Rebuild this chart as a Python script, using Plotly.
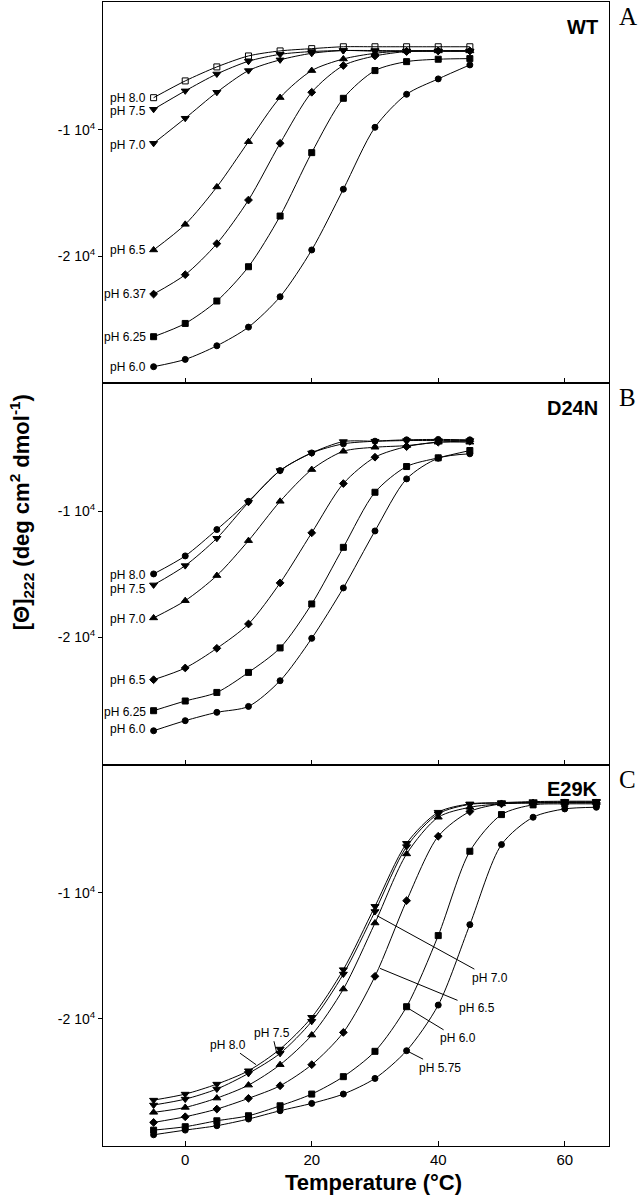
import plotly.graph_objects as go
from plotly.subplots import make_subplots

# ---------------- data ----------------
T_AB = [-5, 0, 5, 10, 15, 20, 25, 30, 35, 40, 45]
T_C = [-5, 0, 5, 10, 15, 20, 25, 30, 35, 40, 45, 50, 55, 60, 65]

# Panel A : WT
WT_pH = ["pH 8.0", "pH 7.5", "pH 7.0", "pH 6.5", "pH 6.37", "pH 6.25", "pH 6.0"]
WT_80 = [-7440, -6110, -5000, -4130, -3730, -3550, -3400, -3400, -3400, -3400, -3400]
WT_75 = [-8360, -6900, -5560, -4550, -4000, -3780, -3700, -3700, -3730, -3730, -3730]
WT_70 = [-11060, -9070, -7010, -5290, -4440, -3920, -3700, -3750, -3750, -3750, -3750]
WT_65 = [-19520, -17490, -14520, -10930, -7430, -5290, -4370, -3920, -3730, -3730, -3730]
WT_637 = [-23020, -21480, -19020, -15560, -11060, -7010, -4890, -4130, -3780, -3730, -3730]
WT_625 = [-26400, -25350, -23570, -20850, -16830, -11800, -7490, -5290, -4580, -4390, -4340]
WT_60 = [-28780, -28200, -27120, -25640, -23230, -19520, -14700, -9790, -7170, -5950, -4840]

# Panel B : D24N
D24N_pH = ["pH 8.0", "pH 7.5", "pH 7.0", "pH 6.5", "pH 6.25", "pH 6.0"]
D24N_80 = [-14970, -13540, -11450, -9210, -6770, -5370, -4650, -4440, -4330, -4300, -4330]
D24N_75 = [-15840, -14310, -12140, -9290, -6770, -5370, -4470, -4440, -4390, -4390, -4390]
D24N_70 = [-18460, -17090, -15100, -12330, -9210, -6690, -5240, -4920, -4790, -4520, -4520]
D24N_65 = [-23360, -22430, -20870, -18940, -15680, -11710, -7800, -5710, -4870, -4520, -4440]
D24N_625 = [-25820, -25050, -24370, -22780, -20840, -17350, -12860, -8490, -6450, -5760, -5180]
D24N_60 = [-27410, -26610, -25950, -25480, -23440, -20080, -16080, -11560, -7430, -5790, -5440]

# Panel C : E29K
E29K_pH = ["pH 8.0", "pH 7.5", "pH 7.0", "pH 6.5", "pH 6.0", "pH 5.75"]
E29K_80 = [-26460, -25980, -25190, -24130, -22410, -19890, -16110, -11090, -6090, -3620, -2960, -2860, -2780, -2750, -2750]
E29K_75 = [-26850, -26380, -25580, -24340, -22750, -20210, -16460, -11500, -6350, -3750, -3000, -2900, -2830, -2800, -2800]
E29K_70 = [-27430, -27040, -26300, -25270, -23650, -21300, -17650, -12410, -6930, -4020, -3230, -2960, -2870, -2850, -2850]
E29K_65 = [-28230, -27780, -27170, -26320, -25320, -23650, -21090, -16640, -10640, -5530, -3570, -2960, -2900, -2880, -2880]
E29K_60 = [-28840, -28570, -28100, -27700, -26910, -25980, -24600, -22590, -19050, -13410, -6720, -3810, -3040, -2960, -2960]
E29K_575 = [-29210, -28840, -28490, -27960, -27300, -26720, -25980, -24740, -22540, -18920, -12540, -6190, -4020, -3360, -3230]

# ---------------- figure ----------------
FONT = "Liberation Sans, Arial, Helvetica, sans-serif"
fig = make_subplots(rows=3, cols=1, shared_xaxes=True, vertical_spacing=0)

def add(row, xs, ys, symbol, size=6):
    fig.add_trace(go.Scatter(
        x=xs, y=ys, mode="lines+markers",
        line=dict(color="black", width=1, shape="spline", smoothing=0.8),
        marker=dict(symbol=symbol, size=size, color="black",
                    line=dict(color="black", width=1)),
        showlegend=False, hoverinfo="skip"), row=row, col=1)

# Panel A
wt_series = [WT_80, WT_75, WT_70, WT_65, WT_637, WT_625, WT_60]
wt_sym = ["square-open", "triangle-down", "triangle-down", "triangle-up", "diamond", "square", "circle"]
wt_size = [6, 7, 7, 7, 6, 6, 6]
for ys, s, sz in zip(wt_series, wt_sym, wt_size):
    add(1, T_AB, ys, s, sz)

# Panel B
d_series = [D24N_80, D24N_75, D24N_70, D24N_65, D24N_625, D24N_60]
d_sym = ["circle", "triangle-down", "triangle-up", "diamond", "square", "circle"]
d_size = [6, 7, 7, 6, 6, 6]
for ys, s, sz in zip(d_series, d_sym, d_size):
    add(2, T_AB, ys, s, sz)

# Panel C
e_series = [E29K_80, E29K_75, E29K_70, E29K_65, E29K_60, E29K_575]
e_sym = ["triangle-down", "triangle-down", "triangle-up", "diamond", "square", "circle"]
e_size = [7, 7, 7, 6, 6, 6]
for ys, s, sz in zip(e_series, e_sym, e_size):
    add(3, T_C, ys, s, sz)

annotations = []

# left-side pH labels (panels A and B)
wt_shift = [0, -2, -2, 0, 0, 0, 0]
for name, ys, dy in zip(WT_pH, wt_series, wt_shift):
    annotations.append(dict(x=T_AB[0], y=ys[0], xref="x", yref="y", text=name,
                            showarrow=False, xanchor="right", xshift=-6, yshift=dy,
                            font=dict(family=FONT, size=12, color="black")))
d_shift = [-1, -4, -1, 0, -1, 2]
for name, ys, dy in zip(D24N_pH, d_series, d_shift):
    annotations.append(dict(x=T_AB[0], y=ys[0], xref="x2", yref="y2", text=name,
                            showarrow=False, xanchor="right", xshift=-6, yshift=dy,
                            font=dict(family=FONT, size=12, color="black")))

# panel C call-out labels (point on curve, offset of text in px)
c_labels = [
    ("pH 7.0", 30.3, -11825, 113, 62),
    ("pH 6.5", 30.8, -16010, 97, 40),
    ("pH 6.0", 35.0, -19100, 51, 31),
    ("pH 5.75", 35.0, -22540, 33, 17),
    ("pH 8.0", 11.2, -23650, -28, -20),
    ("pH 7.5", 14.5, -22780, -5, -21),
]
for name, x, y, ax, ay in c_labels:
    annotations.append(dict(x=x, y=y, xref="x3", yref="y3", text=name,
                            showarrow=True, arrowhead=0, arrowwidth=1, arrowcolor="black",
                            ax=ax, ay=ay, standoff=0, startstandoff=0,
                            font=dict(family=FONT, size=12, color="black")))

# panel names and letters
for name, letter, yd, yp in [("WT", "A", "y domain", 0.9875), ("D24N", "B", "y2 domain", 0.654), ("E29K", "C", "y3 domain", 0.32)]:
    annotations.append(dict(x=0.983, y=0.935, xref="x domain", yref=yd, text="<b>%s</b>" % name,
                            showarrow=False, xanchor="right", yanchor="middle",
                            font=dict(family=FONT, size=20, color="black")))
    annotations.append(dict(x=1.0375, y=yp, xref="paper", yref="paper", text=letter,
                            showarrow=False, xanchor="center", yanchor="middle",
                            font=dict(family="Liberation Serif, Times New Roman, serif", size=25, color="black")))

# axis titles
annotations.append(dict(x=-0.162, y=0.554, xref="paper", yref="paper",
                        text="<b>[Θ]<sub>222</sub> (deg cm<sup>2</sup> dmol<sup>-1</sup>)</b>",
                        textangle=-90, showarrow=False, xanchor="center", yanchor="middle",
                        font=dict(family=FONT, size=22, color="black")))
annotations.append(dict(x=0.535, y=-0.032, xref="paper", yref="paper",
                        text="<b>Temperature (°C)</b>", showarrow=False,
                        xanchor="center", yanchor="middle",
                        font=dict(family=FONT, size=22, color="black")))

fig.update_layout(
    width=641, height=1199,
    margin=dict(l=103, r=32, t=2, b=53),
    paper_bgcolor="white", plot_bgcolor="white",
    annotations=annotations,
    font=dict(family=FONT, color="black"),
)

fig.update_xaxes(range=[-13, 67], tickvals=[0, 20, 40, 60], ticks="inside", ticklen=5,
                 tickcolor="black", showline=True, linecolor="black", linewidth=1,
                 mirror=True, showgrid=False, zeroline=False,
                 tickfont=dict(family=FONT, size=15, color="black"))
fig.update_yaxes(range=[-30100, 150], tickvals=[-10000, -20000],
                 ticktext=["-1 10<sup>4</sup>", "-2 10<sup>4</sup>"],
                 ticks="outside", ticklen=4, tickcolor="black",
                 showline=True, linecolor="black", linewidth=1, mirror=True,
                 showgrid=False, zeroline=False,
                 tickfont=dict(family=FONT, size=14, color="black"))

fig.write_html("out.html", config={"displayModeBar": False},
               post_script="document.body.style.margin='0px';document.body.style.overflow='hidden';")
